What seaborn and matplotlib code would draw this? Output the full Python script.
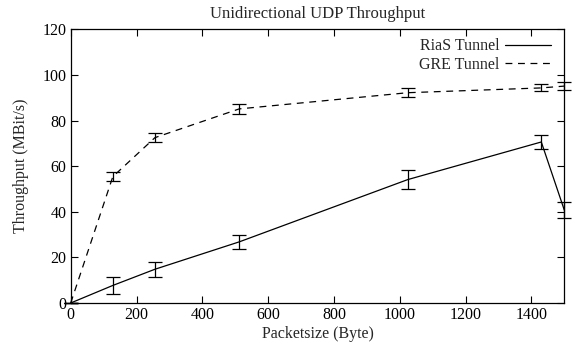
import matplotlib
matplotlib.use("Agg")
import matplotlib.pyplot as plt
import seaborn as sns
import pandas as pd

packet_sizes = [0, 128, 256, 512, 1024, 1430, 1500]
rias_mean = [0, 7.7, 14.8, 26.8, 54.1, 70.6, 40.7]
rias_err = [0, 3.7, 3.2, 3.2, 4.1, 3.0, 3.5]
gre_mean = [0, 55.4, 72.5, 85.1, 92.2, 94.3, 95.1]
gre_err = [0, 2.1, 2.0, 2.1, 1.9, 1.5, 1.6]
series_names = ["RiaS Tunnel", "GRE Tunnel"]
x_ticks = [0, 200, 400, 600, 800, 1000, 1200, 1400]
y_ticks = [0, 20, 40, 60, 80, 100, 120]

sns.set_style("ticks")
plt.rcParams['font.family'] = ['Liberation Serif', 'DejaVu Serif']
plt.rcParams['font.size'] = 11

df = pd.DataFrame({
    "size": packet_sizes * 2,
    "thr": rias_mean + gre_mean,
    "series": [series_names[0]] * len(packet_sizes) + [series_names[1]] * len(packet_sizes),
})

fig = plt.figure(figsize=(5.8, 3.48), dpi=100)
ax = fig.add_axes([0.1219, 0.1293, 0.973 - 0.1219, 0.9158 - 0.1293])

sns.lineplot(data=df, x="size", y="thr", style="series", ax=ax,
             color="black", linewidth=0.9,
             dashes={series_names[0]: "", series_names[1]: (5.5, 4.5)},
             legend=True, clip_on=False)

for m, e in [(rias_mean, rias_err), (gre_mean, gre_err)]:
    ax.errorbar(packet_sizes, m, yerr=e, fmt="none", ecolor="black",
                elinewidth=0.9, capsize=5, capthick=0.9, clip_on=False)

ax.set_xlim(0, 1500)
ax.set_ylim(0, 120)
ax.set_xticks(x_ticks)
ax.set_yticks(y_ticks)
ax.tick_params(direction="in", length=5, width=0.8, top=True, right=True,
               colors="black", labelsize=11.5, pad=3)
for s in ax.spines.values():
    s.set_linewidth(0.9)
    s.set_color("black")

ax.set_xlabel("Packetsize (Byte)", fontsize=11.5, labelpad=2)
ax.set_ylabel("Throughput (MBit/s)", fontsize=11.5, labelpad=10)
ax.set_title("Unidirectional UDP Throughput", fontsize=12, pad=8)

handles, labels = ax.get_legend_handles_labels()
ax.legend(handles, labels, loc="upper right", bbox_to_anchor=(0.99, 0.997),
          frameon=False, markerfirst=False, handlelength=2.9, handletextpad=0.35,
          borderpad=0, labelspacing=0.15, fontsize=11.5)

fig.savefig("out.png", dpi=100)
